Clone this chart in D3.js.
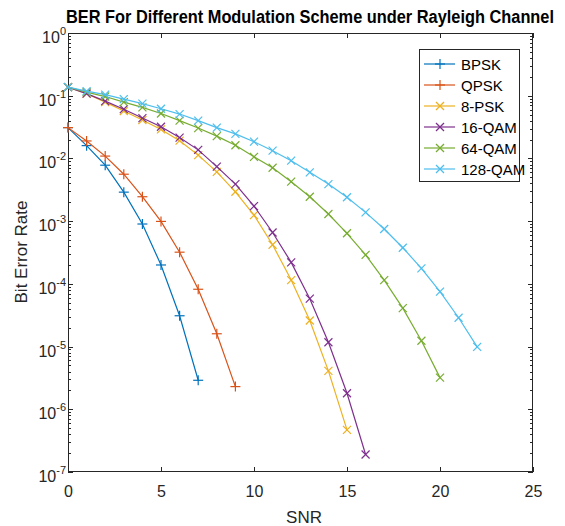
<!DOCTYPE html>
<html>
<head>
<meta charset="utf-8">
<script src="https://cdn.jsdelivr.net/npm/d3@7"></script>
<style>
html,body{margin:0;padding:0;background:#fff;}
svg{display:block;font-family:"Liberation Sans",Arial,sans-serif;}
</style>
</head>
<body>
<svg id="chart" width="565" height="526"></svg>
<script>
// ---- data ----
const snr = [0,1,2,3,4,5,6,7,8,9,10,11,12,13,14,15,16,17,18,19,20,21,22];
const berBPSK   = [3.1e-2, 1.6e-2, 7.8e-3, 2.9e-3, 9.0e-4, 2.0e-4, 3.1e-5, 2.9e-6];
const berQPSK   = [3.1e-2, 1.9e-2, 1.09e-2, 5.6e-3, 2.45e-3, 9.9e-4, 3.2e-4, 8.2e-5, 1.6e-5, 2.3e-6];
const ber8PSK   = [0.137, 0.108, 0.079, 0.057, 0.041, 0.029, 0.0192, 0.0113, 6.1e-3, 2.94e-3, 1.25e-3, 4.2e-4, 1.15e-4, 2.6e-5, 4.1e-6, 4.7e-7];
const ber16QAM  = [0.137, 0.108, 0.082, 0.061, 0.044, 0.032, 0.0215, 0.0137, 7.4e-3, 3.9e-3, 1.74e-3, 6.6e-4, 2.2e-4, 5.8e-5, 1.17e-5, 1.8e-6, 1.9e-7];
const ber64QAM  = [0.137, 0.114, 0.097, 0.079, 0.065, 0.052, 0.040, 0.0305, 0.0227, 0.0162, 0.0106, 7.1e-3, 4.26e-3, 2.45e-3, 1.3e-3, 6.4e-4, 2.9e-4, 1.15e-4, 4.1e-5, 1.24e-5, 3.2e-6];
const ber128QAM = [0.137, 0.118, 0.104, 0.088, 0.075, 0.062, 0.051, 0.040, 0.031, 0.0246, 0.0185, 0.0133, 9.2e-3, 6.0e-3, 3.9e-3, 2.4e-3, 1.38e-3, 7.5e-4, 3.77e-4, 1.77e-4, 7.5e-5, 2.88e-5, 9.9e-6];
const seriesNames = ["BPSK", "QPSK", "8-PSK", "16-QAM", "64-QAM", "128-QAM"];
const seriesValues = [berBPSK, berQPSK, ber8PSK, ber16QAM, ber64QAM, ber128QAM];
const seriesColors = ["#0072BD", "#D95319", "#EDB120", "#7E2F8E", "#77AC30", "#4DBEEE"];
const seriesMarkers = ["+", "+", "x", "x", "x", "x"];
const xTicks = [0, 5, 10, 15, 20, 25];
const yExponents = [0, -1, -2, -3, -4, -5, -6, -7];
const titleText = "BER For Different Modulation Scheme under Rayleigh Channel";
const xLabel = "SNR";
const yLabel = "Bit Error Rate";

// ---- layout ----
const L = 68, R = 533, T = 33, B = 472;
const svg = d3.select("#chart");
const x = d3.scaleLinear().domain([0, 25]).range([L, R]);
const y = d3.scaleLog().domain([1e-7, 1]).range([B, T]);
const axisColor = "#262626";

// minor ticks
const minor = [];
for (let e = -7; e < 0; e++) for (let m = 2; m <= 9; m++) minor.push(m * Math.pow(10, e));
const majorY = yExponents.map(e => Math.pow(10, e));

const gAx = svg.append("g").attr("stroke", axisColor).attr("stroke-width", 1);
[[L, 1], [R, -1]].forEach(([xx, dir]) => {
  gAx.selectAll(null).data(minor).enter().append("line")
    .attr("x1", xx).attr("x2", xx + dir * 3)
    .attr("y1", d => Math.round(y(d)) + 0.5).attr("y2", d => Math.round(y(d)) + 0.5);
  gAx.selectAll(null).data(majorY).enter().append("line")
    .attr("x1", xx).attr("x2", xx + dir * 5)
    .attr("y1", d => Math.round(y(d)) + 0.5).attr("y2", d => Math.round(y(d)) + 0.5);
});
const xAxisB = d3.axisBottom(x).tickValues(xTicks).tickSize(-5).tickPadding(14).tickFormat(d3.format("d"));
const gxb = svg.append("g").attr("transform", `translate(0,${B})`).call(xAxisB);
gxb.select(".domain").remove();
gxb.selectAll("line").attr("stroke", axisColor);
gxb.selectAll("text").attr("fill", axisColor).attr("font-size", 16)
  .attr("font-family", "Liberation Sans, Arial, sans-serif");
const xAxisT = d3.axisTop(x).tickValues(xTicks).tickSize(-5).tickFormat("");
const gxt = svg.append("g").attr("transform", `translate(0,${T})`).call(xAxisT);
gxt.select(".domain").remove();
gxt.selectAll("line").attr("stroke", axisColor);

// box
svg.append("rect").attr("x", L + 0.5).attr("y", T + 0.5).attr("width", R - L - 1).attr("height", B - T - 1)
  .attr("fill", "none").attr("stroke", axisColor).attr("stroke-width", 1);

// y tick labels with superscripts
const gy = svg.append("g").attr("fill", axisColor).attr("font-family", "Liberation Sans, Arial, sans-serif");
yExponents.forEach(e => {
  const yy = y(Math.pow(10, e));
  const t = gy.append("text").attr("x", 66).attr("y", yy + 10).attr("text-anchor", "end");
  t.append("tspan").attr("font-size", 16).text("10");
  t.append("tspan").attr("font-size", 11).attr("dy", -8).text(String(e));
});

// lines and markers
const line = d3.line().x(d => x(d[0])).y(d => y(d[1]));
const gData = svg.append("g");
function drawMarker(g, type, cx, cy, color, s) {
  if (type === "+") {
    g.append("line").attr("x1", cx - s).attr("x2", cx + s).attr("y1", cy).attr("y2", cy).attr("stroke", color);
    g.append("line").attr("x1", cx).attr("x2", cx).attr("y1", cy - s).attr("y2", cy + s).attr("stroke", color);
  } else {
    const k = s * 0.8;
    g.append("line").attr("x1", cx - k).attr("x2", cx + k).attr("y1", cy - k).attr("y2", cy + k).attr("stroke", color);
    g.append("line").attr("x1", cx - k).attr("x2", cx + k).attr("y1", cy + k).attr("y2", cy - k).attr("stroke", color);
  }
}
seriesValues.forEach((vals, i) => {
  const pts = vals.map((v, j) => [snr[j], v]);
  gData.append("path").attr("d", line(pts)).attr("fill", "none")
    .attr("stroke", seriesColors[i]).attr("stroke-width", 1.2);
  const gm = gData.append("g").attr("stroke-width", 1.2);
  pts.forEach(p => drawMarker(gm, seriesMarkers[i], x(p[0]), y(p[1]), seriesColors[i], 5));
});

// legend
const lg = svg.append("g");
lg.append("rect").attr("x", 419.5).attr("y", 49.5).attr("width", 100).attr("height", 132)
  .attr("fill", "#fff").attr("stroke", axisColor).attr("stroke-width", 1);
seriesNames.forEach((name, i) => {
  const yy = 64 + i * 21;
  lg.append("line").attr("x1", 424).attr("x2", 455).attr("y1", yy).attr("y2", yy)
    .attr("stroke", seriesColors[i]).attr("stroke-width", 1.2);
  const gm = lg.append("g").attr("stroke-width", 1.2);
  drawMarker(gm, seriesMarkers[i], 440, yy, seriesColors[i], 5);
  lg.append("text").attr("x", 461).attr("y", yy + 5.5).attr("font-size", 15)
    .attr("fill", "#000").text(name);
});

// title & labels
svg.append("text").attr("transform", "translate(310,23) scale(1,1.12)").attr("text-anchor", "middle")
  .attr("font-size", 16).attr("font-weight", "bold").attr("fill", "#000")
  .attr("textLength", 488).attr("lengthAdjust", "spacingAndGlyphs").text(titleText);
svg.append("text").attr("x", 304).attr("y", 523).attr("text-anchor", "middle")
  .attr("font-size", 17).attr("fill", axisColor).text(xLabel);
svg.append("text").attr("transform", "translate(27,252) rotate(-90)").attr("text-anchor", "middle")
  .attr("font-size", 17).attr("fill", axisColor).text(yLabel);
</script>
</body>
</html>
